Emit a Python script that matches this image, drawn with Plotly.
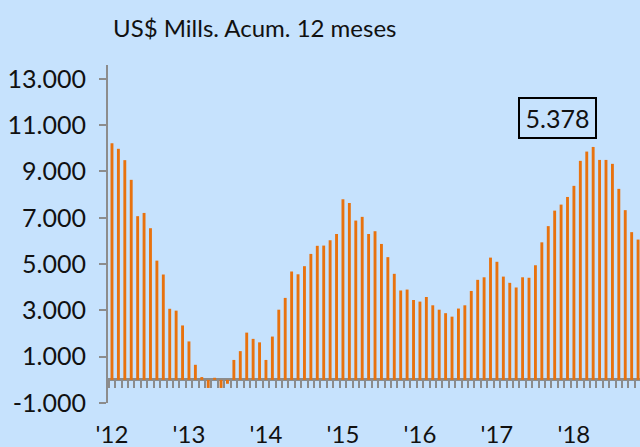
import plotly.graph_objects as go

# Monthly categories Jan 2012 .. Nov 2018
months = [f"{y}-{m:02d}" for y in range(2012, 2019) for m in range(1, 13)][:83]

# US$ millions, accumulated 12 months
values = [
    10220, 9980, 9490, 8640, 7070, 7210, 6550, 5150, 4550, 3070, 2990, 2350,
    1660, 650, 120, -350, 90, -350, -170, 860, 1240, 2040, 1770, 1620,
    860, 1870, 3030, 3540, 4680, 4560, 4910, 5440, 5790, 5800, 6030, 6300,
    7800, 7640, 6880, 7040, 6300, 6420, 5870, 5300, 4580, 3860, 3900, 3450,
    3380, 3580, 3220, 3030, 2880, 2730, 3080, 3220, 3840, 4320, 4430, 5280,
    5100, 4460, 4190, 3990, 4430, 4410, 4950, 5940, 6640, 7310, 7570, 7900,
    8380, 9460, 9860, 10060, 9500, 9500, 9330, 8250, 7330, 6380, 6060,
]

year_labels = ["'12", "'13", "'14", "'15", "'16", "'17", "'18"]
y_tickvals = [-1000, 1000, 3000, 5000, 7000, 9000, 11000, 13000]
y_ticktext = ["-1.000", "1.000", "3.000", "5.000", "7.000", "9.000", "11.000", "13.000"]
title_text = "US$ Mills. Acum. 12 meses"
box_text = "5.378"

x_idx = list(range(len(months)))
jan_idx = [i for i, m in enumerate(months) if m.endswith("-01")]

BG = "#C6E2FD"
GRAY = "#8C8C8C"
ORANGE = "#E8720E"
FONT = "Lato"
TXT = "#111111"

fig = go.Figure()
fig.add_trace(go.Bar(
    x=x_idx, y=values, width=0.45,
    marker=dict(color=ORANGE, line=dict(width=0)),
    hoverinfo="skip", showlegend=False,
))
# dummy trace for the minor-tick axis hanging at zero
fig.add_trace(go.Scatter(
    x=[x_idx[0], x_idx[-1]], y=[0, 0], xaxis="x2", mode="markers",
    marker=dict(opacity=0), hoverinfo="skip", showlegend=False,
))

xr = [-0.62, 82.3]
yr = [-1000, 13600]
zero_pos = (0 - yr[0]) / (yr[1] - yr[0])

fig.update_layout(
    width=640, height=447,
    margin=dict(l=108, r=0, t=65, b=44, autoexpand=False),
    paper_bgcolor=BG, plot_bgcolor=BG,
    font=dict(family=FONT, size=24, color=TXT),
    xaxis=dict(
        range=xr, tickmode="array", tickvals=jan_idx, ticktext=year_labels,
        ticks="", showline=False, showgrid=False, zeroline=False, automargin=False,
        ticklabelstandoff=15, tickfont=dict(size=24, family=FONT, color=TXT),
    ),
    xaxis2=dict(
        range=xr, overlaying="x", anchor="free", position=zero_pos,
        tickmode="linear", tick0=0.5, dtick=1, ticks="outside", ticklen=7,
        tickwidth=2, tickcolor=GRAY, showticklabels=False, showline=False,
        showgrid=False, zeroline=False, automargin=False,
    ),
    yaxis=dict(
        range=yr, tickmode="array", tickvals=y_tickvals, ticktext=y_ticktext,
        ticks="outside", ticklen=7, tickwidth=2, tickcolor=GRAY,
        showline=True, linecolor=GRAY, linewidth=2, showgrid=False,
        zeroline=True, zerolinecolor=GRAY, zerolinewidth=3, automargin=False,
        ticklabelstandoff=8, tickfont=dict(size=25, family=FONT, color=TXT),
    ),
    annotations=[
        dict(text=title_text, xref="paper", yref="paper",
             x=(111 - 108) / 532, y=1 + 38 / 338, xanchor="left", yanchor="middle",
             showarrow=False, font=dict(size=24, family=FONT, color=TXT)),
        dict(text=box_text, xref="x", yref="y", x=69.45, y=11315,
             xanchor="center", yanchor="middle", showarrow=False,
             width=75, height=38, borderpad=0, borderwidth=2, bordercolor="#000000",
             font=dict(size=25, family=FONT, color=TXT)),
    ],
)

fig.write_html(
    "out.html",
    config={"displayModeBar": False},
    post_script="document.body.style.margin='0px';document.body.style.overflow='hidden';",
)
